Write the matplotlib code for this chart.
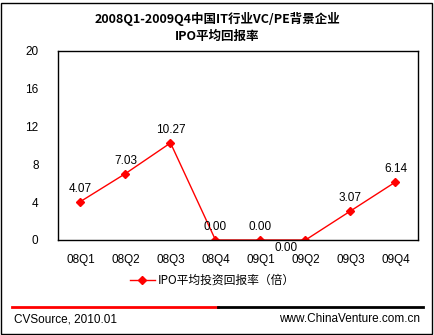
import matplotlib
matplotlib.use("Agg")
import matplotlib.pyplot as plt
from matplotlib.patches import Rectangle
from matplotlib.lines import Line2D

categories = ["08Q1", "08Q2", "08Q3", "08Q4", "09Q1", "09Q2", "09Q3", "09Q4"]
values = [4.07, 7.03, 10.27, 0.00, 0.00, 0.00, 3.07, 6.14]
yticks = [0, 4, 8, 12, 16, 20]
title = "2008Q1-2009Q4中国IT行业VC/PE背景企业\nIPO平均回报率"
series_name = "IPO平均投资回报率（倍）"

plt.rcParams['font.family'] = ['Liberation Sans', 'Noto Sans CJK SC', 'DejaVu Sans']

fig = plt.figure(figsize=(4.35, 3.35), dpi=100)
ax = fig.add_axes([58/435, 1-240/335, 360/435, 189/335])

x = list(range(len(categories)))
ax.plot(x, values, color='#ff0000', lw=1, marker='D', ms=4.5, mfc='#ff0000', mec='#ff0000')
ax.set_xlim(-0.5, len(categories)-0.5)
ax.set_ylim(0, 20)
ax.set_yticks(yticks)
ax.set_xticks(x)
ax.set_xticklabels(categories)
ax.tick_params(length=0, labelsize=8.5, pad=10)
ax.tick_params(axis='y', pad=14)
for s in ax.spines.values():
    s.set_linewidth(1)
    s.set_color('black')

for i, v in enumerate(values):
    if i == 5:
        ax.annotate(f"{v:.2f}", (i, v), xytext=(-14, -6), textcoords='offset points',
                    ha='center', va='center', fontsize=8.5, annotation_clip=False)
    else:
        ax.annotate(f"{v:.2f}", (i, v), xytext=(0, 9), textcoords='offset points',
                    ha='center', va='center', fontsize=8.5, annotation_clip=False)

fig.text(0.5, 1-27/335, title, ha='center', va='center', fontsize=9,
         fontweight='bold', family=['Noto Sans CJK SC', 'DejaVu Sans'], linespacing=1.4)

# legend
lx0, lx1, ly = 130/435, 155/435, 1-280/335
fig.add_artist(Line2D([lx0, lx1], [ly, ly], color='#ff0000', lw=1, transform=fig.transFigure))
fig.add_artist(Line2D([(lx0+lx1)/2], [ly], color='#ff0000', marker='D', ms=4.5, transform=fig.transFigure))
fig.text(158/435, ly, series_name, ha='left', va='center', fontsize=8.5,
         family=['Noto Sans CJK SC', 'DejaVu Sans'])

# footer lines
fy = 1-307/335
fig.add_artist(Line2D([12/435, 218/435], [fy, fy], color='#ff0000', lw=2, transform=fig.transFigure))
fig.add_artist(Line2D([218/435, 423/435], [fy, fy], color='black', lw=2, transform=fig.transFigure))
fig.text(14/435, 1-319/335, "CVSource, 2010.01", ha='left', va='center', fontsize=8.5)
fig.text(420/435, 1-319/335, "www.ChinaVenture.com.cn", ha='right', va='center', fontsize=8.5)

fig.add_artist(Rectangle((1.5/435, 1.5/335), 431/435, 331/335, fill=False, ec='black', lw=1,
                         transform=fig.transFigure))

fig.savefig("out.png", dpi=100)
